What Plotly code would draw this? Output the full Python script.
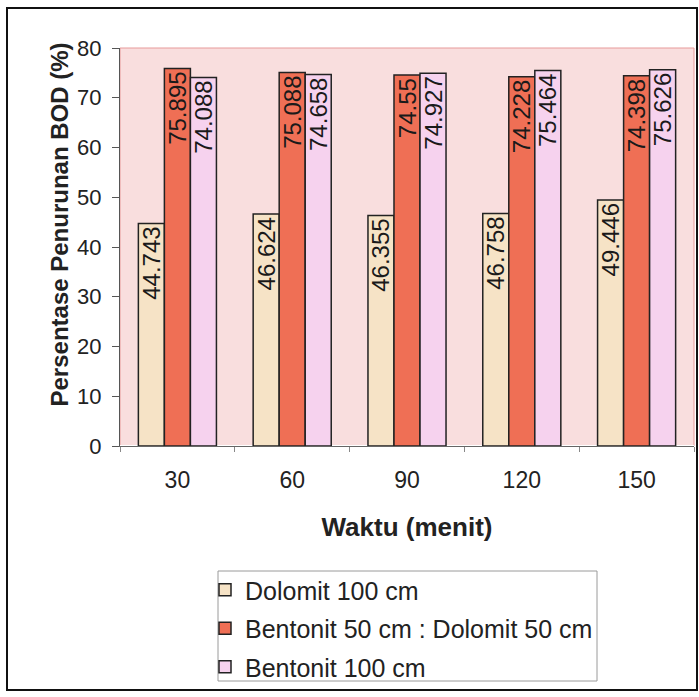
import plotly.graph_objects as go

# Waktu kontak (menit)
waktu = ["30", "60", "90", "120", "150"]

# Persentase penurunan BOD (%) per media filter
dolomit_100 = [44.743, 46.624, 46.355, 46.758, 49.446]
bentonit_dolomit_50 = [75.895, 75.088, 74.55, 74.228, 74.398]
bentonit_100 = [74.088, 74.658, 74.927, 75.464, 75.626]

series_names = ["Dolomit 100 cm", "Bentonit 50 cm : Dolomit 50 cm", "Bentonit 100 cm"]
series_values = [dolomit_100, bentonit_dolomit_50, bentonit_100]
series_colors = ["#F6E3C6", "#EF6F55", "#F6D2EE"]

FONT = "Liberation Sans, Arial, sans-serif"

# plot area in pixels: x 120..694, y 48..446
PX0, PX1, PY0, PY1 = 120, 694, 48, 446


def px_x(x):
    return (x - PX0) / (PX1 - PX0)


def px_y(y):
    return (PY1 - y) / (PY1 - PY0)


fig = go.Figure()
for name, vals, col in zip(series_names, series_values, series_colors):
    fig.add_trace(go.Bar(
        x=waktu, y=vals, name=name, legendgroup=name,
        marker=dict(color=col, line=dict(color="#222222", width=1.5)),
        text=[f"{v:g}" for v in vals],
        textposition="inside", insidetextanchor="end",
        textangle=-90, constraintext="none",
        textfont=dict(family=FONT, size=24, color="#1a1a1a"),
    ))

fig.update_layout(
    width=699, height=697,
    paper_bgcolor="white", plot_bgcolor="#F9DEDE",
    barmode="group", bargap=0.32, bargroupgap=0.0,
    margin=dict(l=PX0, r=699 - PX1, t=PY0, b=697 - PY1, autoexpand=False),
    font=dict(family=FONT, size=21, color="#222222"),
    showlegend=True,
    legend=dict(
        x=px_x(205), y=px_y(567), xanchor="left", yanchor="top",
        bgcolor="rgba(0,0,0,0)", borderwidth=0,
        font=dict(family=FONT, size=25, color="#222222"),
        traceorder="grouped", tracegroupgap=3, itemwidth=30,
    ),
)

fig.update_yaxes(
    range=[0, 80], dtick=10, showgrid=False,
    ticks="outside", ticklen=7, tickcolor="#555555",
    showline=True, linecolor="#555555", linewidth=1,
    tickfont=dict(size=22), ticklabelstandoff=6,
)
fig.update_xaxes(
    showgrid=False, ticks="outside", tickson="boundaries", ticklen=5, tickcolor="#888888",
    showline=True, linecolor="#666666", linewidth=1,
    tickfont=dict(size=23), ticklabelstandoff=13,
    title=dict(text="<b>Waktu (menit)</b>", font=dict(size=26), standoff=26),
)

# Y-axis title
fig.add_annotation(
    text="<b>Persentase Penurunan BOD (%)</b>", textangle=-90,
    xref="paper", yref="paper", x=px_x(43), y=px_y(225),
    showarrow=False, font=dict(size=24, color="#222222"),
)

# Plot area border, legend frame and outer frame
fig.add_shape(type="rect", xref="paper", yref="paper", x0=0, y0=0, x1=1, y1=1,
              line=dict(color="#E79A9A", width=1), layer="below")
fig.add_shape(type="rect", xref="paper", yref="paper",
              x0=px_x(218), y0=px_y(681), x1=px_x(597), y1=px_y(571),
              line=dict(color="#9a9a9a", width=1), fillcolor="white", layer="below")
fig.add_shape(type="rect", xref="paper", yref="paper",
              x0=px_x(7), y0=px_y(690), x1=px_x(697), y1=px_y(8),
              line=dict(color="#111111", width=2))

fig.write_html("out.html")
